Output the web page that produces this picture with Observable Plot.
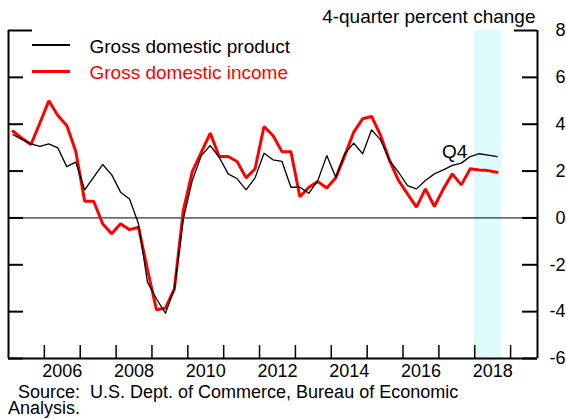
<!DOCTYPE html>
<html><head><meta charset="utf-8">
<script src="https://cdn.jsdelivr.net/npm/d3@7"></script>
<script src="https://cdn.jsdelivr.net/npm/@observablehq/plot@0.6"></script>
<style>
body{margin:0;background:#fff;}
#wrap{position:relative;width:566px;height:419px;font-family:"Liberation Sans",Arial,sans-serif;color:#000;}
#wrap svg{position:absolute;left:0;top:0;}
.sw{position:absolute;left:32px;width:38px;}
#source{position:absolute;left:8px;top:384px;font-size:18px;line-height:16px;white-space:pre;}
</style></head><body><div id="wrap"></div>
<script>
// Quarterly data, 2005Q1 .. 2018Q3, 4-quarter percent change
const startYear = 2005;
const gdp = [3.55,3.35,3.16,3.05,3.16,2.99,2.19,2.38,1.20,1.74,2.28,1.85,1.10,0.81,-0.25,-2.74,-3.45,-4.07,-3.03,-0.04,
  1.60,2.66,3.09,2.59,1.88,1.67,1.20,1.71,2.76,2.48,2.41,1.31,1.31,1.05,1.60,2.66,1.74,2.74,3.19,2.74,
  3.76,3.33,2.45,1.95,1.38,1.24,1.60,1.88,2.05,2.24,2.34,2.62,2.74,2.68,2.62];
const gdi = [3.70,3.40,3.13,4.05,5.00,4.37,3.94,2.85,0.71,0.71,-0.25,-0.68,-0.25,-0.50,-0.40,-2.20,-3.92,-3.85,-3.03,0.32,
  1.98,2.80,3.62,2.62,2.62,2.41,1.71,2.10,3.90,3.52,2.83,2.83,0.90,1.31,1.55,1.28,1.71,2.66,3.66,4.23,
  4.33,3.52,2.45,1.60,1.03,0.46,1.24,0.49,1.24,1.88,1.41,2.10,2.05,2.02,1.95];
const seriesNames = ["Gross domestic product", "Gross domestic income"];
const seriesColors = ["#000000", "#ff0000"];
const yTicks = [8, 6, 4, 2, 0, -2, -4, -6];
const xTickYears = [2006,2007,2008,2009,2010,2011,2012,2013,2014,2015,2016,2017,2018,2019];
const xLabelYears = [2006,2008,2010,2012,2014,2016,2018];
const shade = [{start: 2018, end: 2018.75}];
const annotation = {index: 51, label: "Q4"};
const yAxisTitle = "4-quarter percent change";
const sourceText = "  Source:  U.S. Dept. of Commerce, Bureau of Economic\nAnalysis.";

const qx = i => startYear + i / 4 + 0.125;
const gdpData = gdp.map((v, i) => ({t: qx(i), v}));
const gdiData = gdi.map((v, i) => ({t: qx(i), v}));

const W = 566, H = 419, mL = 8, mR = 29, mT = 30, mB = 61;
const fw = W - mL - mR, fh = H - mT - mB;
const xDomain = [2005, 2019.75];
const yDomain = [-6, 8];
const F = "Liberation Sans, Arial, sans-serif";

const chart = Plot.plot({
  width: W, height: H,
  marginLeft: mL, marginRight: mR, marginTop: mT, marginBottom: mB,
  x: {domain: xDomain, axis: null},
  y: {domain: yDomain, axis: null},
  style: {fontFamily: F, background: "transparent", overflow: "visible"},
  marks: [
    Plot.rectX(shade, {x1: "start", x2: "end", fill: "#dcfcfc"}),
    Plot.ruleY([0], {stroke: "#000", strokeWidth: 1}),
    Plot.line(gdiData, {x: "t", y: "v", stroke: seriesColors[1], strokeWidth: 3, strokeLinejoin: "miter"}),
    Plot.line(gdpData, {x: "t", y: "v", stroke: seriesColors[0], strokeWidth: 1.3}),
    // frame (left, right, bottom)
    Plot.ruleX(xDomain, {stroke: "#000", strokeWidth: 2}),
    Plot.ruleY([yDomain[0]], {stroke: "#000", strokeWidth: 2}),
    // x ticks pointing up
    Plot.tickX(xTickYears, {x: d => d, stroke: "#000", strokeWidth: 1.5, insetTop: fh - 13}),
    // y ticks inward on both sides
    Plot.tickY(yTicks.filter(d => d !== yDomain[1]), {y: d => d, stroke: "#000", strokeWidth: 2, insetRight: fw - 15}),
    Plot.tickY(yTicks.filter(d => d !== yDomain[1]), {y: d => d, stroke: "#000", strokeWidth: 2, insetLeft: fw - 15}),
    Plot.tickY([yDomain[1]], {y: d => d, stroke: "#000", strokeWidth: 2, insetRight: fw - 24}),
    Plot.tickY([yDomain[1]], {y: d => d, stroke: "#000", strokeWidth: 2, insetLeft: fw - 23}),
    // tick labels
    Plot.text(yTicks, {y: d => d, text: d => String(d), frameAnchor: "right", lineAnchor: "middle", dx: 28, textAnchor: "end", fontSize: 18, fill: "#000"}),
    Plot.text(xLabelYears, {x: d => d + 0.5, text: d => String(d), frameAnchor: "bottom", lineAnchor: "middle", dy: 13, fontSize: 18, fill: "#000"}),
    // title
    Plot.text([yAxisTitle], {text: d => d, frameAnchor: "top-right", lineAnchor: "middle", dx: -2, dy: -14, textAnchor: "end", fontSize: 19, fill: "#000"}),
    // legend labels
    Plot.text([seriesNames[0]], {text: d => d, frameAnchor: "top-left", lineAnchor: "middle", dx: 81, dy: 16.5, textAnchor: "start", fontSize: 19, fill: seriesColors[0]}),
    Plot.text([seriesNames[1]], {text: d => d, frameAnchor: "top-left", lineAnchor: "middle", dx: 81, dy: 42, textAnchor: "start", fontSize: 19, fill: seriesColors[1]}),
    // Q4 annotation
    Plot.text([annotation], {x: d => gdpData[d.index].t, y: d => gdpData[d.index].v, text: "label", lineAnchor: "middle", textAnchor: "end", dx: -3, dy: -5, fontSize: 19, fill: "#000"})
  ]
});
const wrap = document.getElementById("wrap");
wrap.appendChild(chart);
// legend swatches
[[45, 1.3, 0], [71.5, 3, 1]].forEach(([top, h, k]) => {
  const d = document.createElement("div");
  d.className = "sw";
  d.style.top = (top - h / 2) + "px";
  d.style.height = h + "px";
  d.style.background = seriesColors[k];
  wrap.appendChild(d);
});
const src = document.createElement("div");
src.id = "source";
src.textContent = sourceText;
wrap.appendChild(src);
</script>
</body></html>
